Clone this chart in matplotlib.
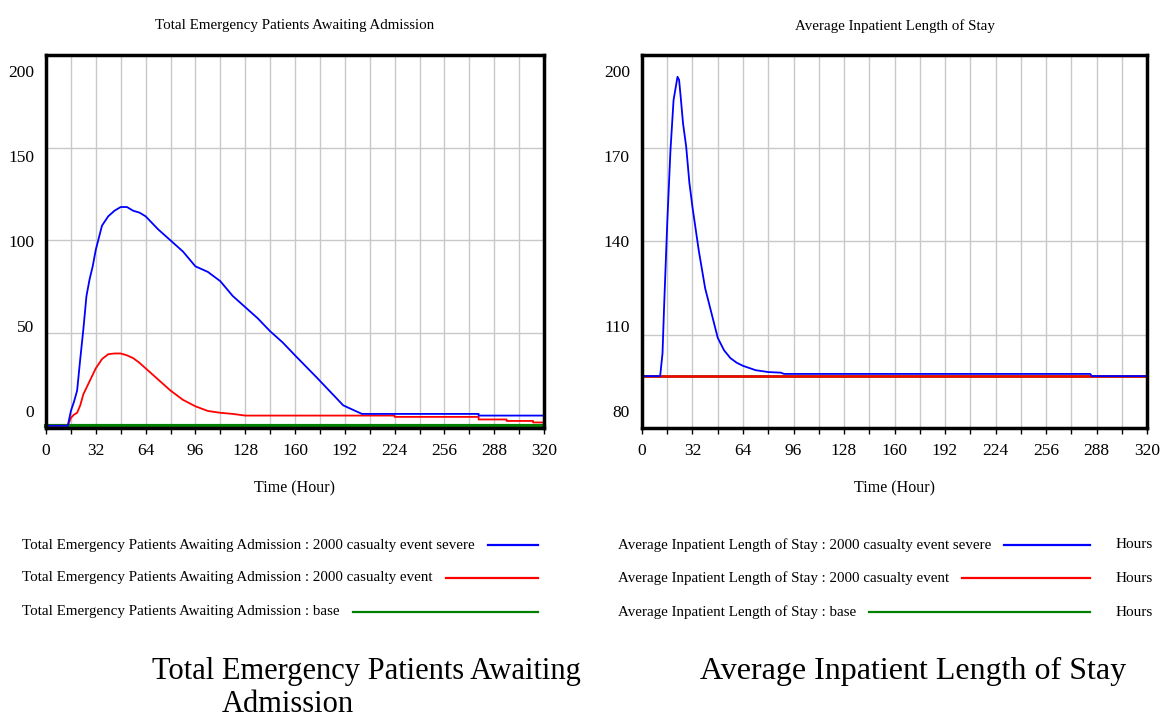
import numpy as np
import matplotlib
matplotlib.use("Agg")
import matplotlib.pyplot as plt

plt.rcParams['font.family'] = ['Liberation Serif', 'DejaVu Serif']

W, H = 1161, 721

# ---- data ----
left_title = "Total Emergency Patients Awaiting Admission"
right_title = "Average Inpatient Length of Stay"
x_ticks = [0, 32, 64, 96, 128, 160, 192, 224, 256, 288, 320]
left_y_ticks = [0, 50, 100, 150, 200]
right_y_ticks = [80, 110, 140, 170, 200]
scenarios = ["2000 casualty event severe", "2000 casualty event", "base"]
colors = ["#0000ff", "#ff0000", "#008000"]

# Total emergency patients awaiting admission
tep_severe_t = [0, 14, 16, 18, 20, 22, 24, 26, 28, 30, 32, 36, 40, 44, 48, 52, 56, 60, 64,
                72, 80, 88, 96, 104, 112, 120, 128, 136, 144, 152, 160, 174, 191, 203, 278, 278, 320]
tep_severe_v = [0, 0, 8, 13, 19, 36, 52, 70, 79, 86, 95, 108, 113, 116, 118, 118, 116, 115, 113,
                106, 100, 94, 86, 83, 78, 70, 64, 58, 51, 45, 38, 26, 11, 6.4, 6.4, 5.5, 5.5]
tep_event_t = [0, 14, 16, 18, 20, 22, 24, 28, 32, 36, 40, 44, 48, 52, 56, 60, 64, 72, 80, 88,
               96, 104, 112, 120, 128, 224, 224, 278, 278, 296, 296, 313, 313, 320]
tep_event_v = [0, 0, 4.3, 6, 7, 11, 17, 24, 31, 36, 38.6, 39, 39, 38, 36.5, 34, 31, 25, 19, 14,
               10.5, 8, 7, 6.4, 5.5, 5.5, 4.8, 4.8, 3.4, 3.4, 2.6, 2.6, 1.8, 1.8]
tep_base_t = [0, 320]
tep_base_v = [0, 0]

# Average inpatient length of stay
los_severe_t = [0, 11.5, 13, 14, 16, 18, 20, 22.5, 23.5, 24.5, 26, 28, 30, 32, 36, 40, 44, 48,
                52, 56, 60, 64, 72, 80, 88, 90, 284, 285, 320]
los_severe_v = [96.7, 96.7, 104, 119, 146, 169, 185.5, 193, 192, 186.6, 178, 170.5, 159, 151,
                137, 125, 117, 109, 105, 102.5, 101, 100, 98.6, 98, 97.8, 97.4, 97.4, 96.7, 96.7]
los_event_t = [0, 320]
los_event_v = [96.7, 96.7]
los_base_t = [0, 320]
los_base_v = [96.7, 96.7]

fig = plt.figure(figsize=(W / 100, H / 100), dpi=100)


def fx(px):
    return px / W


def fy(py):
    return 1 - py / H


def make_axes(x0, x1, y_ticks, ylim, title, xlabel_x):
    ax = fig.add_axes([fx(x0), fy(428), fx(x1 - x0), 373 / H])
    ax.set_xlim(0, 320)
    ax.set_ylim(*ylim)
    ax.set_xticks(np.arange(0, 321, 16), minor=True)
    ax.set_xticks(x_ticks)
    ax.set_xticklabels([str(t) for t in x_ticks], fontsize=12.5)
    ax.set_yticks(y_ticks)
    ax.set_yticklabels([])
    ax.tick_params(axis='y', length=0)
    ax.tick_params(axis='x', which='both', length=4, width=1, direction='out', pad=7)
    ax.grid(True, which='both', color='#c8c8c8', linewidth=1.0)
    ax.set_axisbelow(True)
    for s in ax.spines.values():
        s.set_linewidth(2.5)
    # vensim-style inset y labels
    for lab, f in zip(y_ticks, np.linspace(0.04, 0.952, len(y_ticks))):
        ax.text(-0.024, f, str(lab), transform=ax.transAxes, ha='right', va='center',
                fontsize=12.5)
    fig.text(fx((x0 + x1) / 2), fy(26), title, ha='center', va='center', fontsize=10.8)
    fig.text(fx(xlabel_x), fy(488), "Time (Hour)", ha='center', va='center', fontsize=11.5)
    return ax


ax1 = make_axes(46, 544, left_y_ticks, (-1.2, 200), left_title, 295)
ax1.plot(tep_base_t, tep_base_v, color=colors[2], lw=3, clip_on=False)
ax1.plot(tep_event_t, tep_event_v, color=colors[1], lw=1.3)
ax1.plot(tep_severe_t, tep_severe_v, color=colors[0], lw=1.3)

ax2 = make_axes(642, 1147, right_y_ticks, (80, 200), right_title, 895)
ax2.plot(los_base_t, los_base_v, color=colors[2], lw=1.8)
ax2.plot(los_event_t, los_event_v, color=colors[1], lw=1.8)
ax2.plot(los_severe_t, los_severe_v, color=colors[0], lw=1.3)

# legends drawn as text + line segments (Vensim layout)
fig.canvas.draw()
renderer = fig.canvas.get_renderer()
rows_y = [545, 578, 612]


def legend(x_text, x_line_end, var, unit=None):
    for name, col, py in zip(scenarios, colors, rows_y):
        t = fig.text(fx(x_text), fy(py), f"{var} : {name}", ha='left', va='center', fontsize=10.8)
        bb = t.get_window_extent(renderer)
        x_start = bb.x1 + 13
        fig.add_artist(plt.Line2D([x_start / W, fx(x_line_end)], [fy(py), fy(py)],
                                  color=col, lw=1.6, transform=fig.transFigure))
        if unit:
            fig.text(fx(1153), fy(py), unit, ha='right', va='center', fontsize=11)


legend(22, 538, left_title)
legend(618, 1090, right_title, "Hours")

# captions below the panels
fig.text(fx(366), fy(671), "Total Emergency Patients Awaiting", ha='center', va='center', fontsize=22)
fig.text(fx(288), fy(704), "Admission", ha='center', va='center', fontsize=22)
fig.text(fx(913), fy(671), "Average Inpatient Length of Stay", ha='center', va='center', fontsize=23)

fig.savefig("out.png", dpi=100)
